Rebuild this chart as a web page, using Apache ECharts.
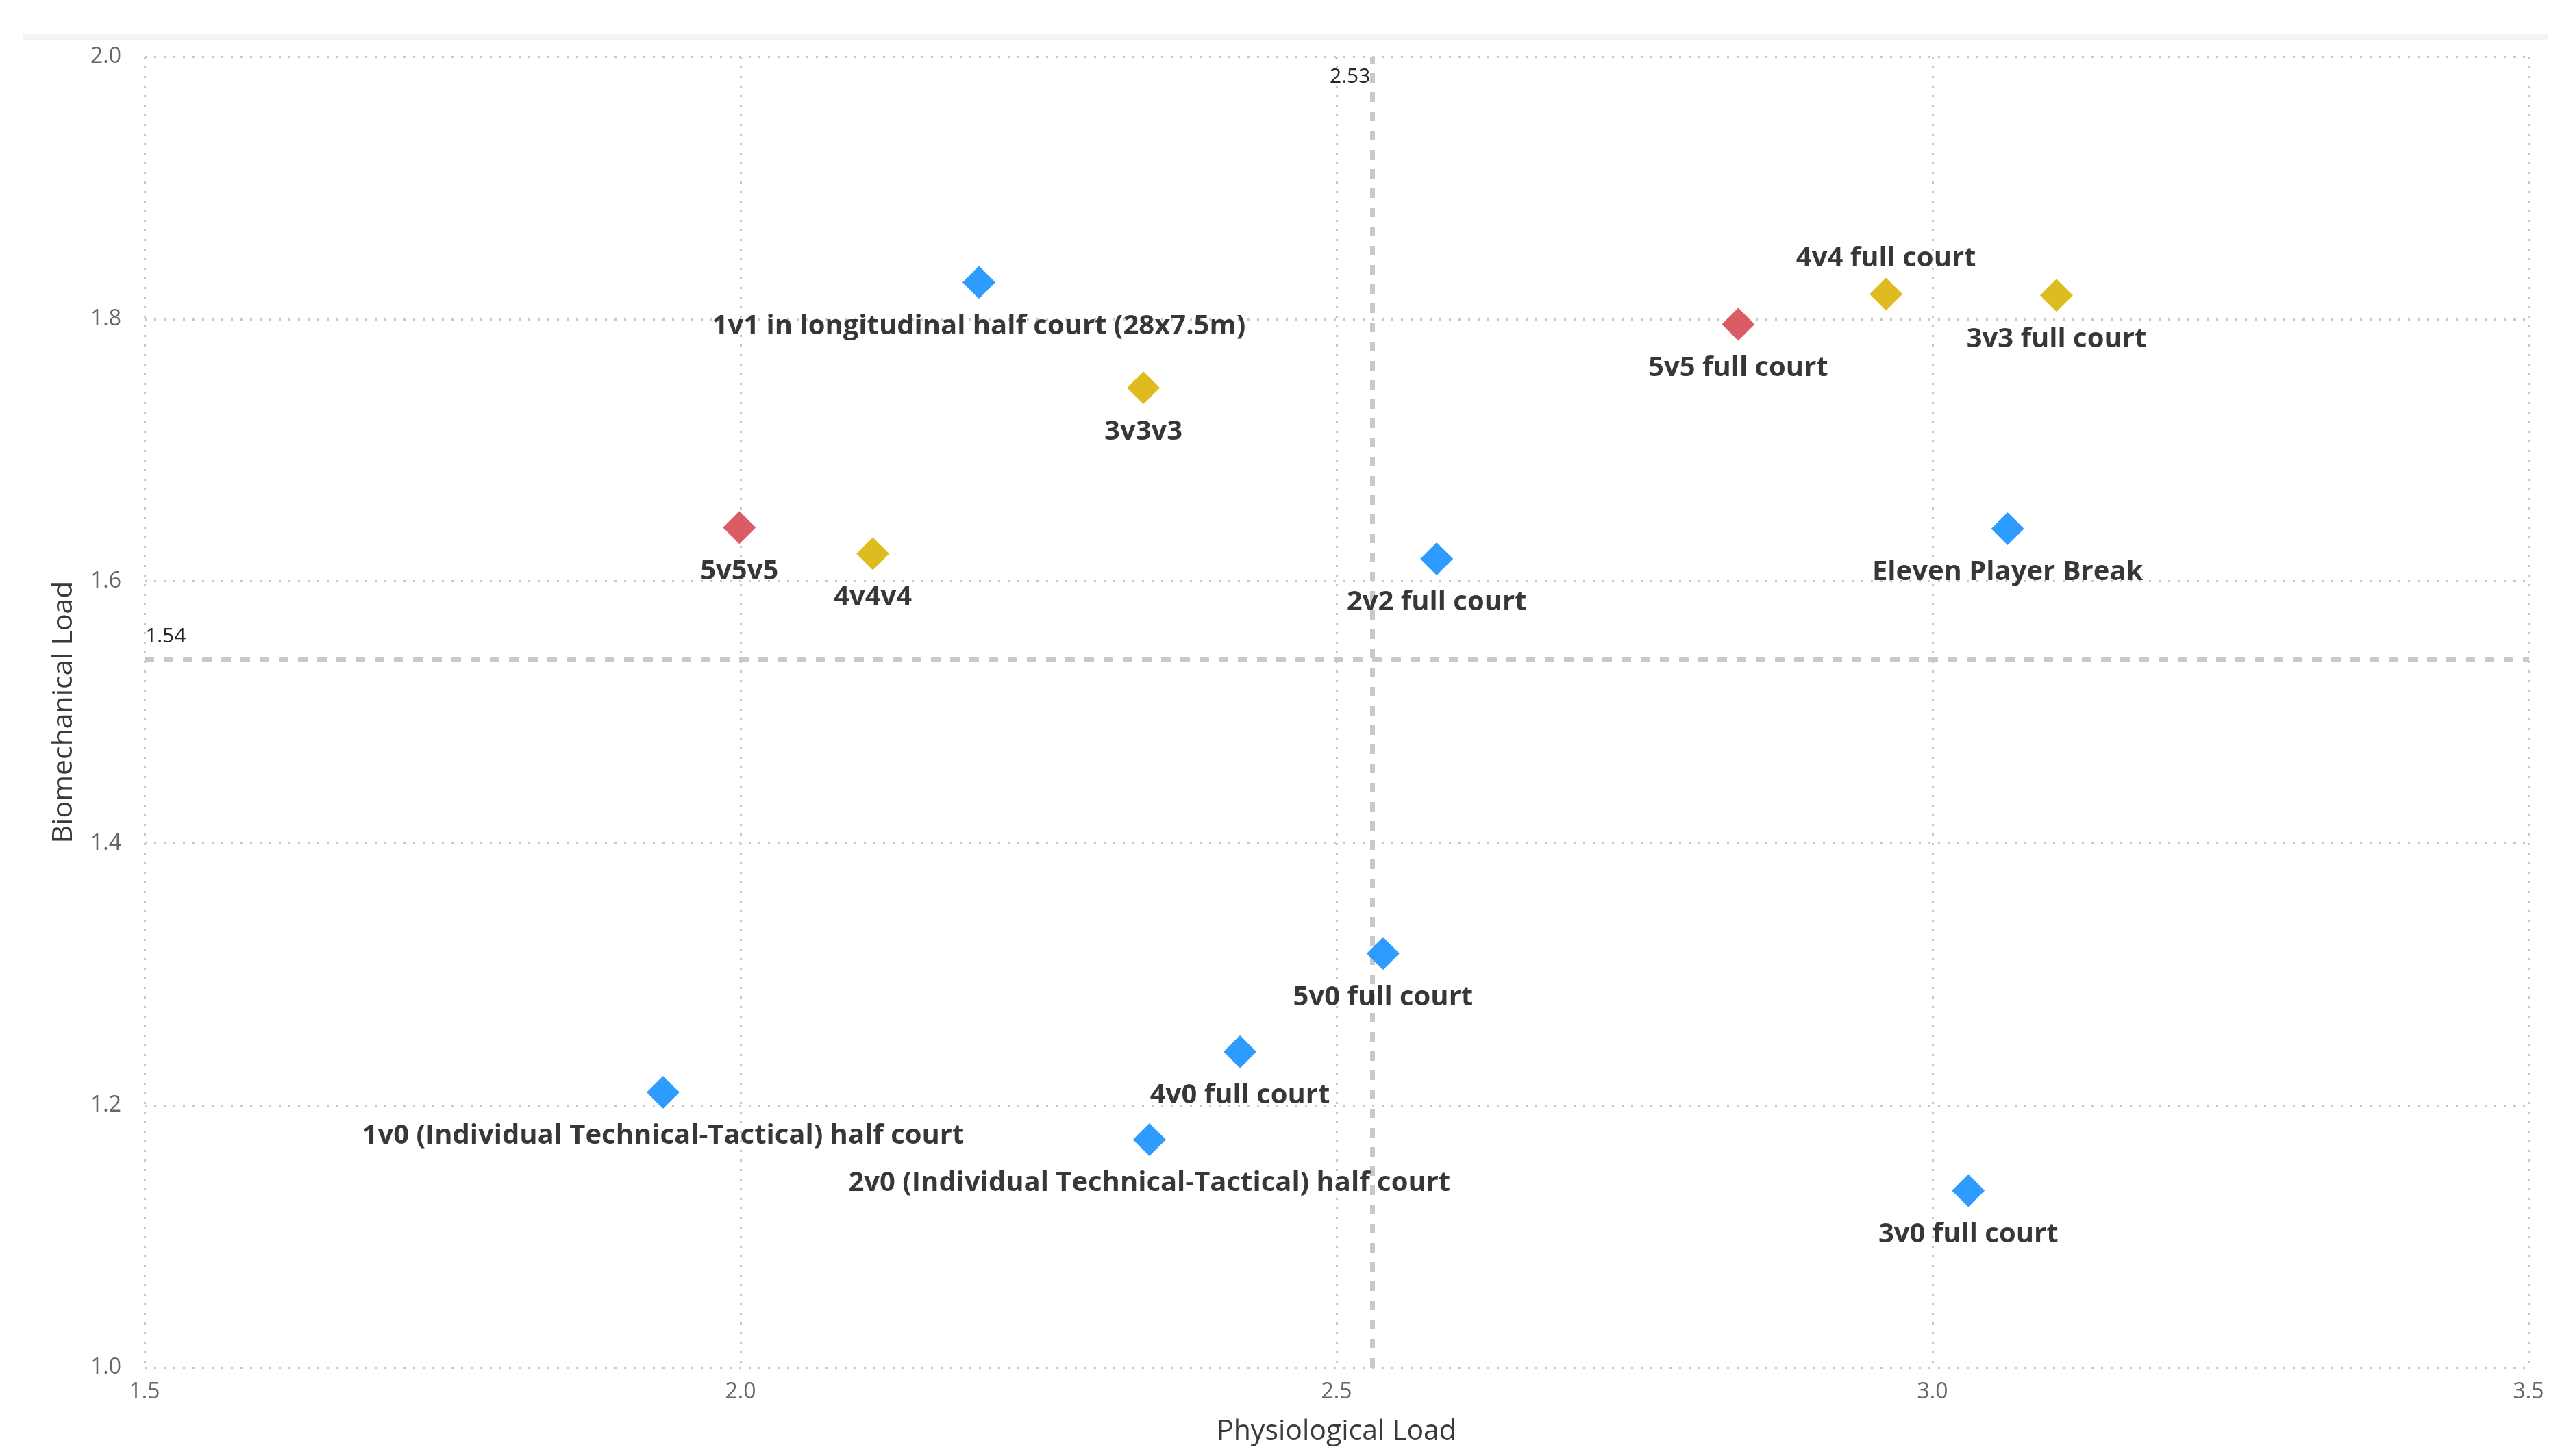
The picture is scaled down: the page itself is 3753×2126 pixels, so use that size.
<!DOCTYPE html>
<html>
<head>
<meta charset="utf-8">
<script src="https://cdn.jsdelivr.net/npm/echarts@6/dist/echarts.min.js"></script>
<style>
html,body{margin:0;padding:0;background:#fff;}
#chart{width:3753px;height:2126px;}
</style>
</head>
<body>
<div id="chart"></div>
<script>
// ---- data ----
const blueNames = [
  '1v1 in longitudinal half court (28x7.5m)',
  '2v2 full court',
  'Eleven Player Break',
  '5v0 full court',
  '4v0 full court',
  '1v0 (Individual Technical-Tactical) half court',
  '2v0 (Individual Technical-Tactical) half court',
  '3v0 full court'
];
const blueX = [2.20, 2.584, 3.063, 2.539, 2.419, 1.935, 2.343, 3.030];
const blueY = [1.828, 1.617, 1.640, 1.316, 1.241, 1.210, 1.174, 1.135];

const redNames = ['5v5 full court', '5v5v5'];
const redX = [2.837, 1.999];
const redY = [1.796, 1.641];

const goldNames = ['4v4 full court', '3v3 full court', '3v3v3', '4v4v4'];
const goldX = [2.961, 3.104, 2.338, 2.111];
const goldY = [1.819, 1.818, 1.7475, 1.621];

const labelAbove = ['4v4 full court'];

const avgX = 2.533;
const avgY = 1.543;

const xTicks = [1.5, 2.0, 2.5, 3.0, 3.5];
const yTicks = [1.0, 1.2, 1.4, 1.6, 1.8, 2.0];

// ---- chart ----
const labelFont = {
  fontFamily: 'Open Sans',
  fontWeight: 'bold',
  fontSize: 40,
  color: '#1b1b1b'
};

function build(names, xs, ys) {
  return names.map((n, i) => {
    const d = { name: n, value: [xs[i], ys[i]] };
    if (labelAbove.indexOf(n) >= 0) {
      d.label = { position: 'top', distance: 8 };
    }
    return d;
  });
}

function scatter(name, color, data) {
  return {
    name: name,
    type: 'scatter',
    symbol: 'diamond',
    symbolSize: 48,
    itemStyle: { color: color, opacity: 0.88 },
    label: Object.assign({
      show: true,
      position: 'bottom',
      distance: 20,
      formatter: p => p.name
    }, labelFont),
    emphasis: { disabled: true },
    data: data,
    z: 3
  };
}

const chart = echarts.init(document.getElementById('chart'), null, { renderer: 'canvas' });

const gridLine = { show: true, lineStyle: { color: '#c8c8c8', width: 3, type: [3, 11] } };
const tickLabel = { fontFamily: 'Open Sans', fontSize: 32, color: '#666666' };
const nameStyle = { fontFamily: 'Open Sans', fontSize: 41, color: '#3a3a3a' };

const option = {
  backgroundColor: '#ffffff',
  animation: false,
  graphic: [{
    type: 'rect',
    left: 34, top: 50,
    shape: { width: 3686, height: 8 },
    style: { fill: '#f3f3f3' },
    silent: true
  }],
  grid: { left: 211, right: 62, top: 83, bottom: 129, containLabel: false },
  xAxis: {
    type: 'value',
    min: xTicks[0],
    max: xTicks[xTicks.length - 1],
    interval: 0.5,
    name: 'Physiological Load',
    nameLocation: 'middle',
    nameGap: 73,
    nameTextStyle: nameStyle,
    axisLine: { show: false },
    axisTick: { show: false },
    axisLabel: Object.assign({ margin: 20, formatter: v => v.toFixed(1) }, tickLabel),
    splitLine: gridLine
  },
  yAxis: {
    type: 'value',
    min: yTicks[0],
    max: yTicks[yTicks.length - 1],
    interval: 0.2,
    name: 'Biomechanical Load',
    nameLocation: 'middle',
    nameGap: 97,
    nameTextStyle: nameStyle,
    axisLine: { show: false },
    axisTick: { show: false },
    axisLabel: Object.assign({ margin: 34, formatter: v => v.toFixed(1) }, tickLabel),
    splitLine: gridLine
  },
  series: [
    Object.assign(scatter('Blue', '#118DFF', build(blueNames, blueX, blueY)), {
      markLine: {
        silent: true,
        symbol: 'none',
        animation: false,
        lineStyle: { color: '#c8c8c8', width: 7, type: [14, 14] },
        label: { show: false },
        data: [{ xAxis: avgX }, { yAxis: avgY }],
        z: 1
      },
      markPoint: {
        silent: true,
        symbol: 'circle',
        symbolSize: 0,
        animation: false,
        data: [
          {
            coord: [avgX, yTicks[yTicks.length - 1]],
            label: { show: true, formatter: avgX.toFixed(2), position: 'left', distance: 8, offset: [0, 29],
              fontFamily: 'Open Sans', fontSize: 30, color: '#252525' }
          },
          {
            coord: [xTicks[0], avgY],
            label: { show: true, formatter: avgY.toFixed(2), position: 'right', distance: 1, offset: [0, -28],
              fontFamily: 'Open Sans', fontSize: 30, color: '#252525' }
          }
        ]
      }
    }),
    scatter('Red', '#D64550', build(redNames, redX, redY)),
    scatter('Gold', '#D9B300', build(goldNames, goldX, goldY))
  ]
};

chart.setOption(option);
</script>
</body>
</html>
